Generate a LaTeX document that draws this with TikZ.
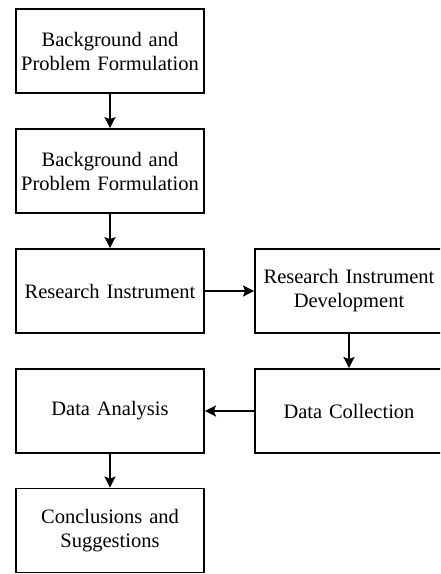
\documentclass[tikz,border=0pt]{standalone}
\usepackage{fontspec}
\setmainfont{Liberation Serif}
\usetikzlibrary{arrows.meta}
\tikzset{
  box/.style={draw=black, line width=1.8pt, minimum width=188pt, minimum height=84pt,
    align=center, inner sep=0pt, text width=186pt,
    font=\fontsize{20.5pt}{24pt}\selectfont},
  conn/.style={line width=1.8pt, -{Stealth[length=11pt,width=11pt,inset=2pt]}}
}
\begin{document}
\begin{tikzpicture}[x=1pt,y=-1pt]
\useasboundingbox (0,0) rectangle (440,574);
\fill[white] (0,0) rectangle (440,574);
\clip (0,0) rectangle (440,574);
\node[box] (b1) at (110,51) {Background and\\Problem Formulation};
\node[box] (b2) at (110,171) {Background and\\Problem Formulation};
\node[box] (ri) at (110,291) {Research Instrument};
\node[box] (rid) at (349,291) {Research Instrument\\Development};
\node[box] (dc) at (349,411) {Data Collection};
\node[box] (da) at (110,411) {Data Analysis};
\node[box] (cs) at (110,530.5) {Conclusions and\\Suggestions};
\draw[conn] (b1) -- (b2);
\draw[conn] (b2) -- (ri);
\draw[conn] (ri) -- (rid);
\draw[conn] (rid) -- (dc);
\draw[conn] (dc) -- (da);
\draw[conn] (da) -- (cs);
\end{tikzpicture}
\end{document}
